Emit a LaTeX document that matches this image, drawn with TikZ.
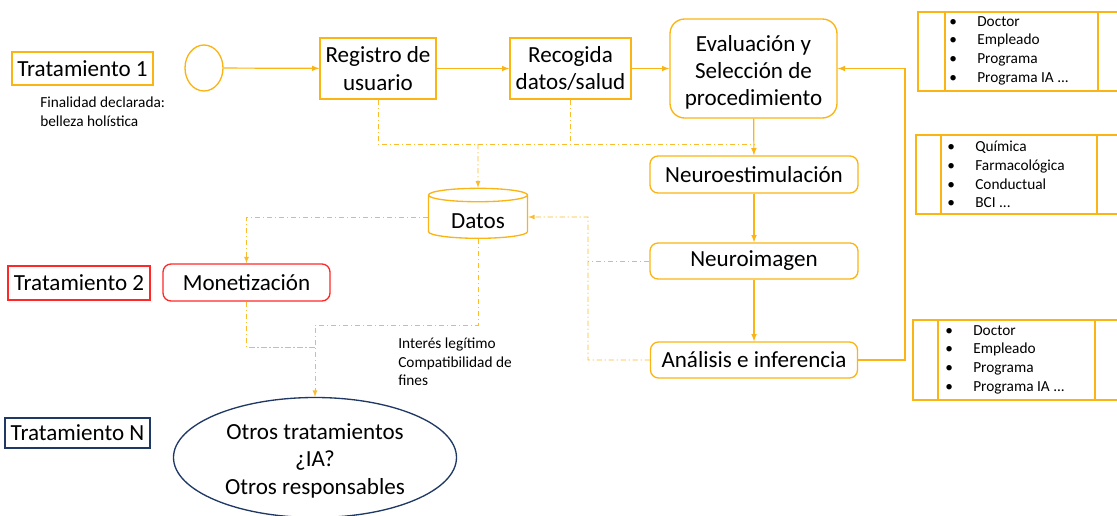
\documentclass[tikz,border=0pt]{standalone}
\usepackage{fontspec}
\setmainfont{Carlito}
\usetikzlibrary{arrows,shapes.geometric,calc}

\definecolor{oro}{RGB}{250,180,20}
\definecolor{rojo}{RGB}{255,40,40}
\definecolor{azul}{RGB}{32,56,100}

\newcommand{\grande}{\fontsize{17.3}{20.5}\selectfont}
\newcommand{\chico}{\fontsize{11.5}{14}\selectfont}
\newcommand{\punto}{\makebox[21pt][l]{\textbullet}}
\newcommand{\bajar}[2]{\raisebox{-#1}[\height][\depth]{\begin{tabular}{@{}c@{}}#2\end{tabular}}}

\begin{document}
\begin{tikzpicture}[>=latex,x=0.75pt,y=-0.75pt,
	caja/.style={draw=oro,line width=1pt,inner sep=0pt,align=center,font=\grande},
	redonda/.style={caja,rounded corners=6pt},
	flecha/.style={draw=oro,line width=0.9pt,->},
	puntos/.style={draw=oro!90,line width=0.7pt,dash pattern=on 4pt off 2pt on 1pt off 2pt},
	lista/.style={anchor=west,align=left,inner sep=0pt,font=\chico}]

\def\px{0.75pt}
\useasboundingbox (0,0) rectangle (1117,515);
\clip (0,0) rectangle (1117,515);

% tratamiento 1
\node[caja,minimum width=141*\px,minimum height=33*\px] (t1) at (82.5,68.5) {Tratamiento 1};
\node[lista] (fin) at (40,112) {Finalidad declarada:\\belleza holística};
\node[draw=oro,line width=1pt,ellipse,inner sep=0pt,minimum width=38*\px,minimum height=46*\px] (inicio) at (204,68) {};
\node[caja,minimum width=116*\px,minimum height=61*\px] (reg) at (378,68.5) {Registro de\\usuario};
\node[caja,minimum width=121*\px,minimum height=61*\px] (rec) at (570.5,68.5) {Recogida\\datos/salud};
\node[caja,rounded corners=11pt,minimum width=167*\px,minimum height=99*\px] (eval) at (753.5,68.5) {\bajar{3.5pt}{Evaluación y\\Selección de\\procedimiento}};
\node[redonda,minimum width=208*\px,minimum height=37*\px] (nest) at (754,174.5) {Neuroestimulación};
\node[redonda,minimum width=208*\px,minimum height=36*\px] (nimg) at (754,261) {Neuroimagen};
\node[redonda,minimum width=207*\px,minimum height=36*\px] (anal) at (754,360) {Análisis e inferencia};
\node[caja,cylinder,shape border rotate=90,aspect=0.25,minimum width=99*\px,minimum height=50*\px] (datos) at (478,217) {\raisebox{-3pt}[\height][\depth]{Datos}};

% tratamiento 2 y N
\node[caja,draw=rojo,minimum width=142*\px,minimum height=34*\px] (t2) at (79,283) {Tratamiento 2};
\node[redonda,draw=rojo,minimum width=167*\px,minimum height=37*\px] (mon) at (246.5,282.5) {Monetización};
\node[caja,draw=azul,minimum width=145*\px,minimum height=30*\px] (tn) at (77.5,433) {Tratamiento N};
\node[caja,draw=azul,ellipse,minimum width=283*\px,minimum height=120*\px] (otros) at (315,457.5) {\bajar{3pt}{Otros tratamientos\\¿IA?\\Otros responsables}};
\node[lista] (legit) at (398,362) {Interés legítimo\\Compatibilidad de\\fines};

% tablas
\foreach \xa/\xb/\xc/\ya/\yb in {918/945/1098/12/91,916/941/1097/135/214,913/938/1095/320/400}
	\draw[oro,line width=1pt] (\xa,\ya) rectangle (1130,\yb) (\xb,\ya) -- (\xb,\yb) (\xc,\ya) -- (\xc,\yb);
\node[lista] (rol1) at (949,50.5) {\punto Doctor\\\punto Empleado\\\punto Programa\\\punto Programa IA ...};
\node[lista] (tipo) at (947,174.5) {\punto Química\\\punto Farmacológica\\\punto Conductual\\\punto BCI ...};
\node[lista] (rol2) at (945,359.5) {\punto Doctor\\\punto Empleado\\\punto Programa\\\punto Programa IA ...};

% flujo principal
\draw[flecha] (inicio) -- (reg);
\draw[flecha] (reg) -- (rec);
\draw[flecha] (rec) -- (eval);
\draw[flecha] (eval) -- (nest);
\draw[flecha] (nest) -- (nimg);
\draw[flecha] (nimg) -- (anal);
\coordinate (vuelta) at (905,360);
\draw[flecha] (anal) -- (vuelta) |- (eval);

% flujo de datos
\coordinate (cruce) at (754,144);
\coordinate (baja) at (315,325);
\coordinate (junta) at (315,347);
\coordinate (lado) at (588,217);
\draw[puntos] (reg) |- (cruce);
\draw[puntos] (rec) -- (rec |- cruce);
\draw[puntos,->] (datos |- cruce) -- (datos);
\draw[puntos,->] (datos) -| (mon);
\draw[puntos,->] (datos) |- (baja) -- (otros);
\draw[puntos] (mon) |- (junta);
\draw[puntos,->] (anal) -| (lado) -- (datos);
\draw[puntos] (nimg) -- (nimg -| lado);

\end{tikzpicture}
\end{document}
